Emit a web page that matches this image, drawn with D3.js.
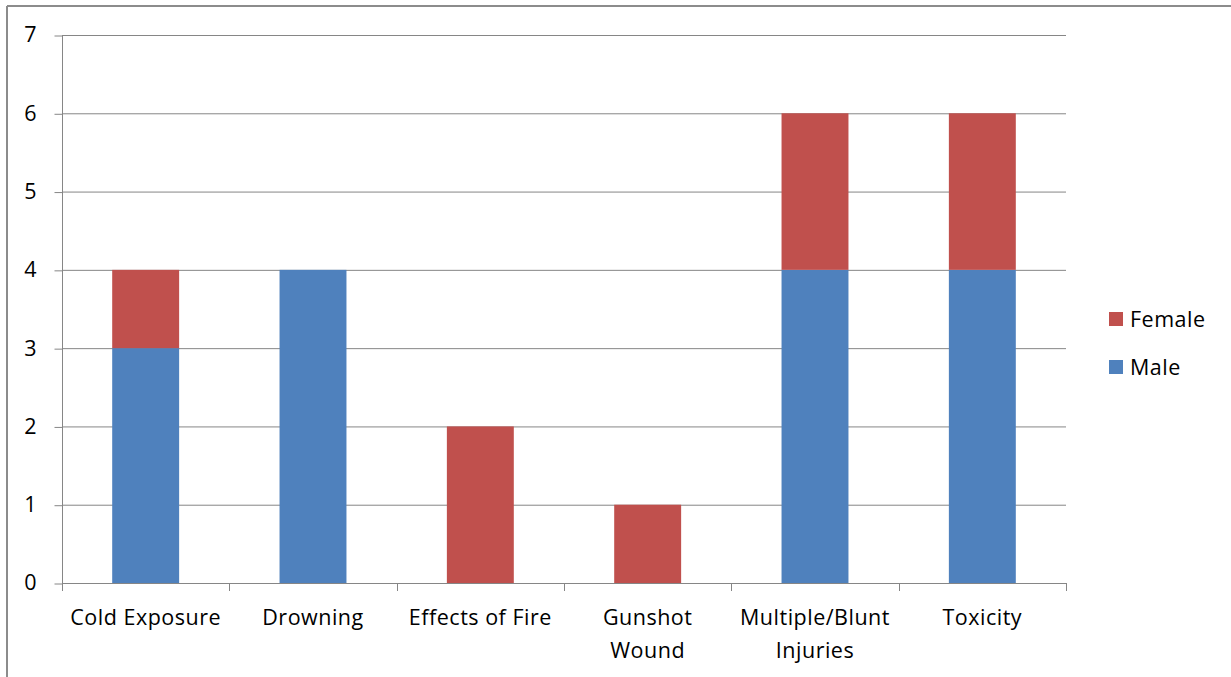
<!DOCTYPE html>
<html>
<head>
<meta charset="utf-8">
<script src="https://cdn.jsdelivr.net/npm/d3@7"></script>
<style>
  html, body { margin: 0; padding: 0; background: #fff; }
  svg { display: block; font-family: "Open Sans", "Noto Sans", sans-serif; }
</style>
</head>
<body>
<svg id="chart" width="1231" height="677"></svg>
<script>
// Causes of death, split by sex (stacked: Male at the bottom, Female on top)
const categories = [["Cold Exposure"], ["Drowning"], ["Effects of Fire"], ["Gunshot", "Wound"], ["Multiple/Blunt", "Injuries"], ["Toxicity"]];
const male   = [3, 4, 0, 0, 4, 4];
const female = [1, 0, 2, 1, 2, 2];
const seriesNames = ["Male", "Female"];
const yTicks = [0, 1, 2, 3, 4, 5, 6, 7];

const colors = { Male: "#4F81BD", Female: "#C0504D" };
const gridColor = "#868686";
const fontSize = 21.5;
const spacing = 0.5;

const svg = d3.select("#chart");
const W = 1231, H = 677;
const plot = { left: 62, right: 1066, top: 35, bottom: 583 };

// outer frame (top and left edges)
svg.append("line").attr("x1", 7).attr("x2", W).attr("y1", 6).attr("y2", 6)
  .attr("stroke", "#8c8c8c").attr("stroke-width", 2);
svg.append("line").attr("x1", 7).attr("x2", 7).attr("y1", 6).attr("y2", H)
  .attr("stroke", "#8c8c8c").attr("stroke-width", 2);

const keys = categories.map(c => c.join(" "));
const x = d3.scaleBand().domain(keys).range([plot.left, plot.right]).paddingInner(0.6).paddingOuter(0.3);
const xb = d3.scaleBand().domain(keys).range([plot.left, plot.right]);
const y = d3.scaleLinear().domain([0, 7]).range([plot.bottom, plot.top]);

// horizontal gridlines
svg.append("g").selectAll("line").data(yTicks.filter(t => t > 0)).join("line")
  .attr("x1", plot.left).attr("x2", plot.right)
  .attr("y1", d => y(d) + 0.5).attr("y2", d => y(d) + 0.5)
  .attr("stroke", gridColor).attr("stroke-width", 1);

// stacked bars
const rows = keys.map((k, i) => ({ key: k, Male: male[i], Female: female[i] }));
const stack = d3.stack().keys(seriesNames)(rows);
svg.append("g").selectAll("g").data(stack).join("g")
  .attr("fill", d => colors[d.key])
  .selectAll("rect").data(d => d).join("rect")
  .attr("x", d => x(d.data.key))
  .attr("width", x.bandwidth())
  .attr("y", d => y(d[1]))
  .attr("height", d => y(d[0]) - y(d[1]));

// y axis
const yAxis = svg.append("g").attr("transform", `translate(${plot.left + 0.5},0)`)
  .call(d3.axisLeft(y).tickValues(yTicks).tickSize(8).tickPadding(18).tickFormat(d3.format("d")));
yAxis.select(".domain").attr("stroke", gridColor).attr("d", `M0,${plot.top}V${plot.bottom}`);
yAxis.selectAll(".tick line").attr("stroke", gridColor).attr("transform", "translate(0,0.5)");
yAxis.selectAll("text").attr("font-size", fontSize).attr("fill", "#000").attr("font-family", "Open Sans");

// x axis baseline and boundary ticks
svg.append("line").attr("x1", plot.left).attr("x2", plot.right)
  .attr("y1", plot.bottom + 0.5).attr("y2", plot.bottom + 0.5).attr("stroke", gridColor);
const bounds = keys.map(k => xb(k)).concat([plot.right]);
svg.append("g").selectAll("line").data(bounds).join("line")
  .attr("x1", d => Math.round(d) + 0.5).attr("x2", d => Math.round(d) + 0.5)
  .attr("y1", plot.bottom).attr("y2", plot.bottom + 8).attr("stroke", gridColor);

// category labels (wrapped)
const lab = svg.append("g").selectAll("text").data(categories).join("text")
  .attr("text-anchor", "middle").attr("font-size", fontSize).attr("fill", "#000")
  .attr("letter-spacing", spacing)
  .attr("x", (d, i) => xb(keys[i]) + xb.bandwidth() / 2);
lab.selectAll("tspan").data(d => d).join("tspan")
  .attr("x", function () { return d3.select(this.parentNode).attr("x"); })
  .attr("y", (d, j) => 625 + j * 33)
  .text(d => d);

// legend (Female above Male)
const legend = svg.append("g").selectAll("g").data(["Female", "Male"]).join("g")
  .attr("transform", (d, i) => `translate(1109,${312 + i * 48})`);
legend.append("rect").attr("width", 14).attr("height", 14).attr("fill", d => colors[d]);
legend.append("text").attr("x", 21).attr("y", 15).attr("font-size", fontSize)
  .attr("letter-spacing", spacing).attr("fill", "#000").text(d => d);
</script>
</body>
</html>
